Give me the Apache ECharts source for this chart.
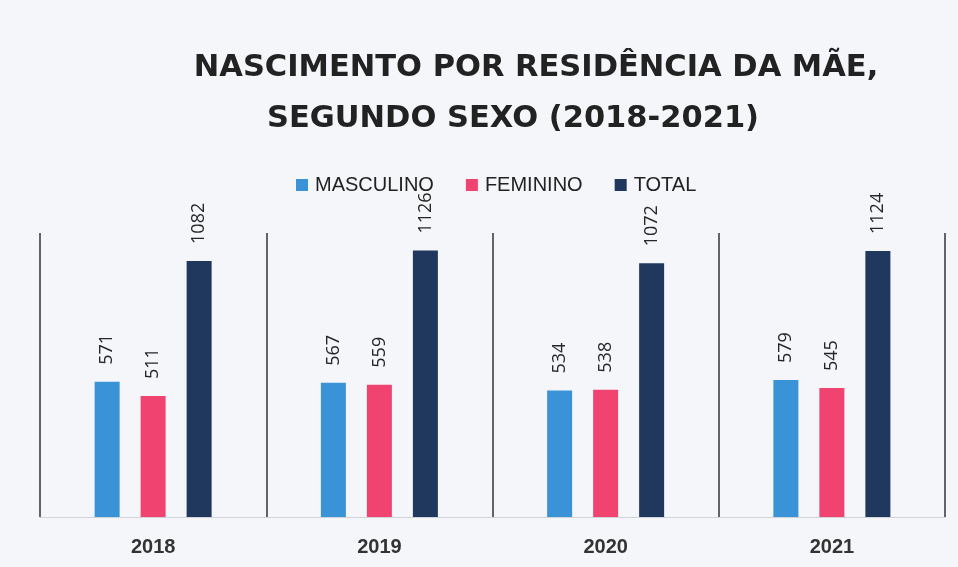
<!DOCTYPE html>
<html>
<head>
<meta charset="utf-8">
<script src="https://cdn.jsdelivr.net/npm/echarts@6/dist/echarts.min.js"></script>
<style>
  html, body { margin: 0; padding: 0; background: #f4f6f9; }
  #chart { width: 958px; height: 567px; }
</style>
</head>
<body>
<div id="chart"></div>
<script>
const years = ['2018', '2019', '2020', '2021']
const masculino = [571, 567, 534, 579]
const feminino = [511, 559, 538, 545]
const total = [1082, 1126, 1072, 1124]

const chart = echarts.init(document.getElementById('chart'))

const labelStyle = {
  show: true,
  position: 'top',
  rotate: 90,
  align: 'left',
  verticalAlign: 'middle',
  distance: 17,
  color: '#262626',
  fontSize: 18,
  fontFamily: 'Open Sans',
}

const options = {
  backgroundColor: '#f4f6f9',
  color: ['#3a93d6', '#f0436f', '#20375e'],
  graphic: [
    {
      type: 'text',
      style: {
        text: 'NASCIMENTO POR RESIDÊNCIA DA MÃE,',
        x: 536, y: 84,
        textAlign: 'center',
        textVerticalAlign: 'bottom',
        font: 'bold 30.5px "DejaVu Sans"',
        fill: '#222',
      },
    },
    {
      type: 'text',
      style: {
        text: 'SEGUNDO SEXO (2018-2021)',
        x: 513, y: 135,
        textAlign: 'center',
        textVerticalAlign: 'bottom',
        font: 'bold 30.5px "DejaVu Sans"',
        fill: '#222',
      },
    },
  ],
  legend: {
    left: 291,
    top: 170,
    icon: 'rect',
    itemWidth: 12,
    itemHeight: 12,
    itemGap: 32,
    textStyle: {
      color: '#222',
      fontSize: 20,
      fontFamily: 'Liberation Sans',
      padding: [0, 0, 0, 2],
    },
    data: ['MASCULINO', 'FEMININO', 'TOTAL'],
  },
  grid: {
    left: 40,
    right: 13,
    top: 233,
    bottom: 50,
  },
  xAxis: {
    type: 'category',
    data: years,
    axisTick: { show: false },
    axisLine: {
      lineStyle: { color: '#c8ccd2', type: 'dotted', width: 1 },
    },
    splitLine: {
      show: true,
      lineStyle: { color: '#333', width: 1.5 },
    },
    axisLabel: {
      color: '#333',
      fontSize: 20,
      fontWeight: 'bold',
      fontFamily: 'Liberation Sans',
      margin: 20,
    },
  },
  yAxis: {
    type: 'value',
    min: 0,
    max: 1200,
    show: false,
    splitLine: { show: false },
  },
  series: [
    {
      name: 'MASCULINO',
      type: 'bar',
      barWidth: 25,
      barGap: '84%',
      data: masculino,
      label: labelStyle,
    },
    {
      name: 'FEMININO',
      type: 'bar',
      barWidth: 25,
      barGap: '84%',
      data: feminino,
      label: labelStyle,
    },
    {
      name: 'TOTAL',
      type: 'bar',
      barWidth: 25,
      barGap: '84%',
      data: total,
      label: labelStyle,
    },
  ],
}

chart.setOption(options, true)
</script>
</body>
</html>
